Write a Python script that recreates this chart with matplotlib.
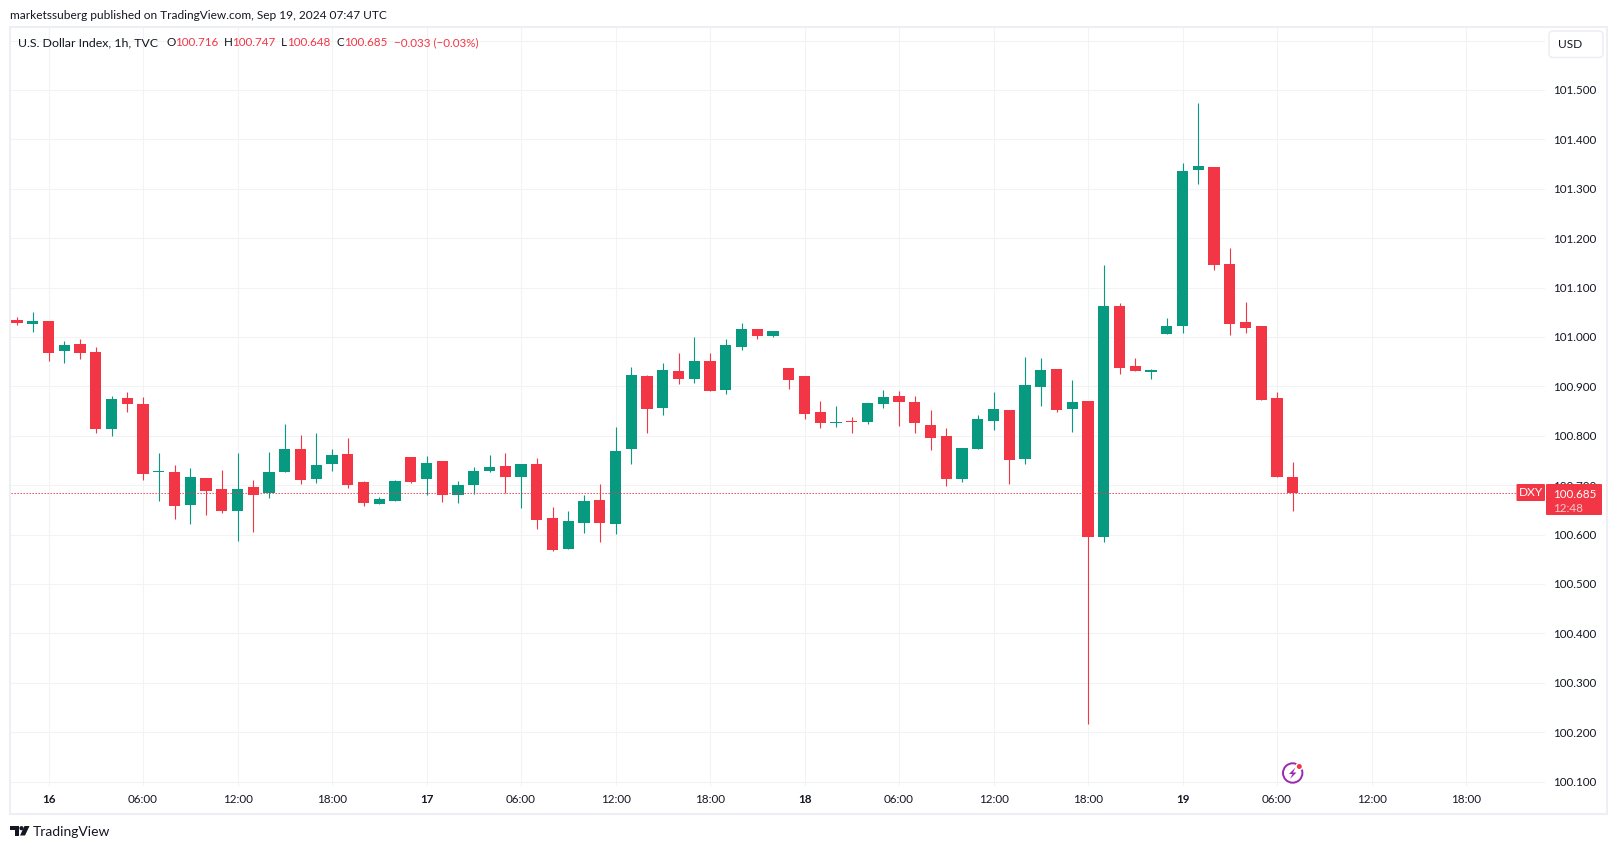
import numpy as np
import matplotlib
matplotlib.use('Agg')
import matplotlib.pyplot as plt
from matplotlib.patches import Rectangle, FancyBboxPatch, Circle, Polygon

# hourly candles, hour 0 = Sep 16 00:00
hours = np.arange(-2, 80)
opens = [101.034, 101.026, 101.032, 100.972, 100.986, 100.970, 100.814, 100.877, 100.864, 100.727,
         100.727, 100.660, 100.715, 100.692, 100.648, 100.696, 100.684, 100.727, 100.773, 100.712,
         100.743, 100.763, 100.706, 100.662, 100.668, 100.757, 100.712, 100.749, 100.680, 100.700,
         100.729, 100.739, 100.717, 100.743, 100.634, 100.571, 100.624, 100.670, 100.621, 100.773,
         100.921, 100.856, 100.931, 100.915, 100.951, 100.893, 100.980, 101.016, 101.002, 100.937,
         100.921, 100.848, 100.826, 100.830, 100.828, 100.864, 100.881, 100.868, 100.822, 100.800,
         100.712, 100.773, 100.830, 100.852, 100.753, 100.899, 100.935, 100.854, 100.870, 100.595,
         101.063, 100.941, 100.929, 101.006, 101.022, 101.338, 101.344, 101.148, 101.030, 101.022,
         100.877, 100.716]
highs = [101.040, 101.051, 101.032, 100.992, 100.996, 100.980, 100.881, 100.889, 100.879, 100.765,
         100.741, 100.735, 100.715, 100.731, 100.765, 100.711, 100.767, 100.824, 100.802, 100.806,
         100.773, 100.796, 100.708, 100.676, 100.711, 100.757, 100.759, 100.749, 100.708, 100.737,
         100.761, 100.765, 100.743, 100.755, 100.656, 100.648, 100.680, 100.702, 100.818, 100.939,
         100.923, 100.947, 100.968, 101.000, 100.968, 100.996, 101.028, 101.016, 101.012, 100.937,
         100.921, 100.870, 100.860, 100.838, 100.866, 100.893, 100.891, 100.881, 100.852, 100.816,
         100.775, 100.842, 100.889, 100.852, 100.960, 100.958, 100.935, 100.913, 100.870, 101.146,
         101.069, 100.957, 100.935, 101.038, 101.352, 101.474, 101.344, 101.180, 101.071, 101.022,
         100.889, 100.747]
lows = [101.024, 101.010, 100.951, 100.947, 100.956, 100.806, 100.800, 100.848, 100.711, 100.668,
        100.632, 100.621, 100.640, 100.644, 100.587, 100.605, 100.674, 100.727, 100.702, 100.704,
        100.729, 100.694, 100.658, 100.662, 100.668, 100.704, 100.680, 100.666, 100.664, 100.682,
        100.727, 100.684, 100.654, 100.611, 100.567, 100.571, 100.603, 100.585, 100.601, 100.743,
        100.806, 100.842, 100.905, 100.907, 100.891, 100.885, 100.974, 100.996, 101.000, 100.895,
        100.834, 100.816, 100.818, 100.806, 100.824, 100.856, 100.820, 100.806, 100.771, 100.698,
        100.706, 100.773, 100.812, 100.702, 100.743, 100.860, 100.848, 100.808, 100.217, 100.585,
        100.925, 100.931, 100.915, 101.006, 101.008, 101.310, 101.136, 101.004, 101.008, 100.872,
        100.717, 100.648]
closes = [101.028, 101.032, 100.968, 100.984, 100.968, 100.814, 100.875, 100.864, 100.723, 100.729,
          100.658, 100.717, 100.688, 100.648, 100.692, 100.680, 100.727, 100.773, 100.711, 100.741,
          100.761, 100.700, 100.664, 100.672, 100.708, 100.706, 100.745, 100.680, 100.700, 100.729,
          100.737, 100.717, 100.743, 100.630, 100.569, 100.628, 100.668, 100.624, 100.769, 100.923,
          100.854, 100.933, 100.915, 100.951, 100.891, 100.984, 101.016, 101.002, 101.012, 100.913,
          100.844, 100.826, 100.828, 100.828, 100.866, 100.879, 100.868, 100.826, 100.796, 100.712,
          100.775, 100.834, 100.854, 100.751, 100.903, 100.933, 100.852, 100.868, 100.595, 101.063,
          100.937, 100.931, 100.933, 101.022, 101.336, 101.346, 101.146, 101.026, 101.018, 100.872,
          100.717, 100.685]

price_ticks = [100.1, 100.2, 100.3, 100.4, 100.5, 100.6, 100.7, 100.8, 100.9, 101.0, 101.1, 101.2, 101.3, 101.4, 101.5, 101.6]
price_labels = ['100.100', '100.200', '100.300', '100.400', '100.500', '100.600', '100.700', '100.800',
                '100.900', '101.000', '101.100', '101.200', '101.300', '101.400', '101.500', '']
time_ticks = [0, 6, 12, 18, 24, 30, 36, 42, 48, 54, 60, 66, 72, 78, 84, 90]
time_labels = ['16', '06:00', '12:00', '18:00', '17', '06:00', '12:00', '18:00',
               '18', '06:00', '12:00', '18:00', '19', '06:00', '12:00', '18:00']

RED = '#F23645'
GREEN = '#089981'
INK = '#131722'
GRID = '#F2F3F5'
FRAME = '#EEEFF4'
FONT = 'Lato'
SIZE = 8.6
NUM = 8.35
W, H = 1617, 849

plt.rcParams['font.family'] = FONT
fig = plt.figure(figsize=(W / 100, H / 100), dpi=100, facecolor='white')

# main chart, placed so that one hour is 15.75 px and 0.1 is 49.4 px
ax = fig.add_axes([11 / W, 1 - 786 / H, (1545 - 11) / W, (786 - 28) / H])
ax.set_xlim((11 - 48.5) / 15.75, (1545 - 48.5) / 15.75)
ax.set_ylim(101.5 - (786 - 90) / 494, 101.5 - (28 - 90) / 494)
for s in ax.spines.values():
    s.set_visible(False)
ax.set_axisbelow(True)
ax.grid(True, color=GRID, lw=0.8)

ax.yaxis.tick_right()
ax.set_yticks(price_ticks)
ax.set_yticklabels(price_labels, fontsize=NUM, color=INK)
ax.tick_params(axis='y', length=0, pad=5.8)
ax.set_xticks(time_ticks)
ax.set_xticklabels(time_labels, fontsize=NUM, color=INK)
ax.tick_params(axis='x', length=0, pad=6)
for t, lab in zip(ax.get_xticklabels(), time_labels):
    if ':' not in lab:
        t.set_fontweight('bold')

# candles
o = np.array(opens)
c = np.array(closes)
colors = [GREEN if b > a else RED for a, b in zip(o, c)]
ax.vlines(hours, lows, highs, colors=colors, lw=0.8, zorder=3)
ax.bar(hours, np.abs(c - o), bottom=np.minimum(o, c), width=0.7, color=colors, zorder=4)

# last price line
ax.axhline(closes[-1], color=RED, lw=0.72, ls=(0, (1.3, 1.7)), zorder=5)

# everything else drawn in pixel coordinates on top
ov = fig.add_axes([0, 0, 1, 1], zorder=5)
ov.set_xlim(0, W)
ov.set_ylim(H, 0)
ov.axis('off')

# frame
ov.add_patch(Rectangle((10, 27), 1597, 786.5, fill=False, ec=FRAME, lw=1.5))

ov.text(10.3, 15, 'marketssuberg published on TradingView.com, Sep 19, 2024 07:47 UTC',
        fontsize=SIZE, color=INK, va='center')

# legend row
ov.text(17.9, 42.5, 'U.S. Dollar Index, 1h, TVC', fontsize=8.9, color=INK, va='center')
for lx, letter, vx, val in [(166, 'O', 174.6, '100.716'), (223.5, 'H', 232, '100.747'),
                            (280.6, 'L', 287.5, '100.648'), (336, 'C', 344.4, '100.685')]:
    ov.text(lx, 42.5, letter, fontsize=NUM, color=INK, va='center')
    ov.text(vx, 42.5, val, fontsize=NUM, color=RED, va='center')
ov.text(393.6, 42.5, '\u22120.033 (\u22120.03%)', fontsize=NUM, color=RED, va='center')

# USD button
ov.add_patch(FancyBboxPatch((1552, 34), 48, 20.5, boxstyle='round,pad=3,rounding_size=4',
                            fc='white', ec=FRAME, lw=1.2))
ov.text(1558, 44.5, 'USD', fontsize=SIZE, color=INK, va='center')

# price tags
ov.add_patch(FancyBboxPatch((1516.5, 484), 28.5, 17, boxstyle='round,pad=0,rounding_size=1', fc=RED, ec='none'))
ov.add_patch(FancyBboxPatch((1546, 484), 56, 31, boxstyle='round,pad=0,rounding_size=1', fc=RED, ec='none'))
ov.text(1530.7, 492.7, 'DXY', fontsize=SIZE, color='white', va='center', ha='center')
ov.text(1553.5, 494, '100.685', fontsize=NUM, color='white', va='center')
ov.text(1553.5, 508, '12:48', fontsize=NUM, color='#FBC9CE', va='center')

# bolt icon
ov.add_patch(Circle((1292.7, 773), 9.7, fill=False, ec='#9C27B0', lw=1.4))
ov.add_patch(Circle((1299.3, 766.5), 4, fc='white', ec='none'))
ov.add_patch(Circle((1299.3, 766.5), 2.5, fc=RED, ec='none'))
ov.add_patch(Polygon([(1295.5, 767.5), (1289, 774), (1292.5, 774), (1290, 779), (1296.5, 772.5), (1293, 772.5)],
                     fc='#9C27B0', ec='none'))

# logo
ov.add_patch(Polygon([(10, 826), (19, 826), (19, 835.5), (14.5, 835.5), (14.5, 830), (10, 830)], fc=INK, ec='none'))
ov.add_patch(Circle((21.5, 828.2), 2.1, fc=INK, ec='none'))
ov.add_patch(Polygon([(24.5, 826), (29.5, 826), (25, 835.5), (20, 835.5)], fc=INK, ec='none'))
ov.text(33, 832, 'TradingView', fontsize=10, color=INK, va='center')

fig.savefig('out.png', dpi=100)
